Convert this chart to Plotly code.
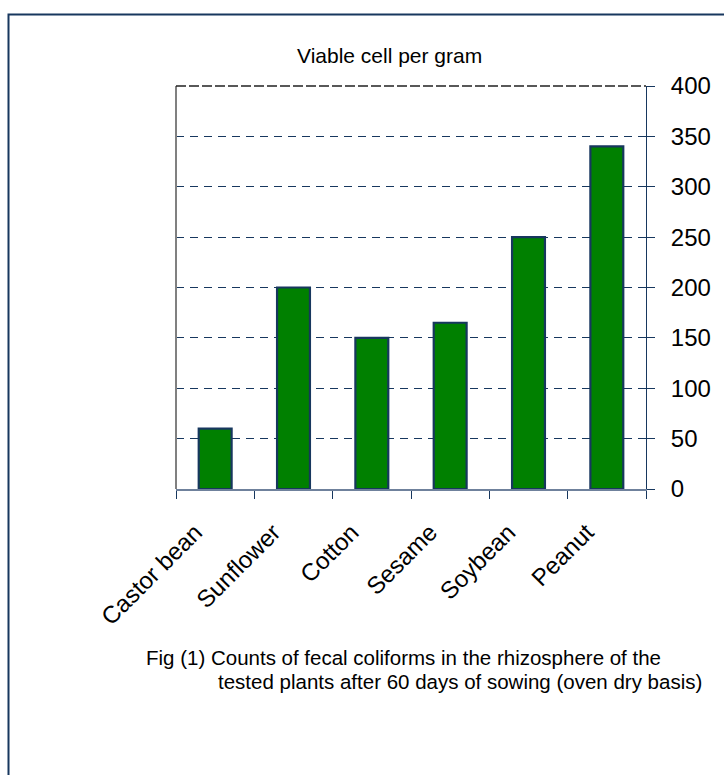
import plotly.graph_objects as go

# Viable fecal coliform counts per gram of rhizosphere soil, 60 days after sowing
plants = ["Castor bean", "Sunflower", "Cotton", "Sesame", "Soybean", "Peanut"]
counts = [60, 200, 150, 165, 250, 340]
y_ticks = [0, 50, 100, 150, 200, 250, 300, 350, 400]
y_range = [0, 400]

NAVY = "#17375e"
GREEN = "#008000"
FONT = "Liberation Sans, Arial, sans-serif"

W, H = 724, 775
L, R, T, B = 176, 646, 86, 489  # plot area edges in px


def px_x(x):
    return (x - L) / (R - L)


def px_y(y):
    return (B - y) / (B - T)


fig = go.Figure()
fig.add_trace(
    go.Bar(
        x=plants,
        y=counts,
        width=0.42,
        marker=dict(color=GREEN, line=dict(color=NAVY, width=2.2)),
    )
)
# empty-looking companion trace so the overlaid label axis is rendered
fig.add_trace(
    go.Scatter(x=plants, y=counts, yaxis="y2", mode="none", hoverinfo="skip")
)

fig.update_layout(
    width=W,
    height=H,
    margin=dict(l=L, r=W - R, t=T, b=H - B, pad=0),
    paper_bgcolor="white",
    plot_bgcolor="white",
    font=dict(family=FONT, color="black"),
    showlegend=False,
)

fig.update_xaxes(
    type="category",
    tickson="boundaries",
    ticks="outside",
    ticklen=8,
    tickcolor=NAVY,
    tickwidth=1,
    showline=True,
    linecolor="#6f819c",
    linewidth=1.5,
    showgrid=False,
    tickangle=-45,
    tickfont=dict(size=24, family=FONT, color="black"),
    ticklabelstandoff=18,
    ticklabelshift=-20,
)

# main value axis: line, short ticks and dashed gridlines
fig.update_layout(
    yaxis=dict(
        side="right",
        range=y_range,
        tickvals=y_ticks,
        showticklabels=False,
        ticks="outside",
        ticklen=8,
        tickcolor=NAVY,
        tickwidth=1,
        showline=True,
        linecolor=NAVY,
        linewidth=1,
        showgrid=True,
        gridcolor=NAVY,
        griddash="8px,6px",
        gridwidth=1,
        zeroline=False,
    ),
    # overlaid axis carrying the tick labels, set further out from the axis line
    yaxis2=dict(
        overlaying="y",
        side="right",
        range=y_range,
        tickvals=y_ticks,
        ticks="outside",
        ticklen=19,
        tickcolor="rgba(0,0,0,0)",
        showline=False,
        showgrid=False,
        zeroline=False,
        tickfont=dict(size=24, family=FONT, color="black"),
    ),
)

shapes = [
    # left edge of the plotting area
    dict(type="line", xref="paper", yref="paper", x0=0, x1=0, y0=0, y1=1,
         line=dict(color="#808080", width=2)),
    # top edge drawn as a darker dashed line
    dict(type="line", xref="paper", yref="paper", x0=0, x1=1, y0=1, y1=1,
         line=dict(color="#222222", width=1.5, dash="10px,3px")),
    # outer frame around the whole figure
    dict(type="rect", xref="paper", yref="paper",
         x0=px_x(8.5), x1=px_x(740), y0=px_y(14.5), y1=px_y(790),
         line=dict(color=NAVY, width=2), layer="above"),
]
fig.update_layout(shapes=shapes)

annotations = [
    dict(text="Viable cell per gram", x=px_x(389), y=px_y(56), xref="paper", yref="paper",
         showarrow=False, xanchor="center", yanchor="middle",
         font=dict(size=21, family=FONT, color="black")),
    dict(text="Fig (1) Counts of fecal coliforms in the rhizosphere of the",
         x=px_x(144), y=px_y(657), xref="paper", yref="paper",
         showarrow=False, xanchor="left", yanchor="middle",
         font=dict(size=20.5, family=FONT, color="black")),
    dict(text="tested plants after 60 days of sowing (oven dry basis)",
         x=px_x(704), y=px_y(681), xref="paper", yref="paper",
         showarrow=False, xanchor="right", yanchor="middle",
         font=dict(size=20.5, family=FONT, color="black")),
]
fig.update_layout(annotations=annotations)

fig.write_html("out.html")
